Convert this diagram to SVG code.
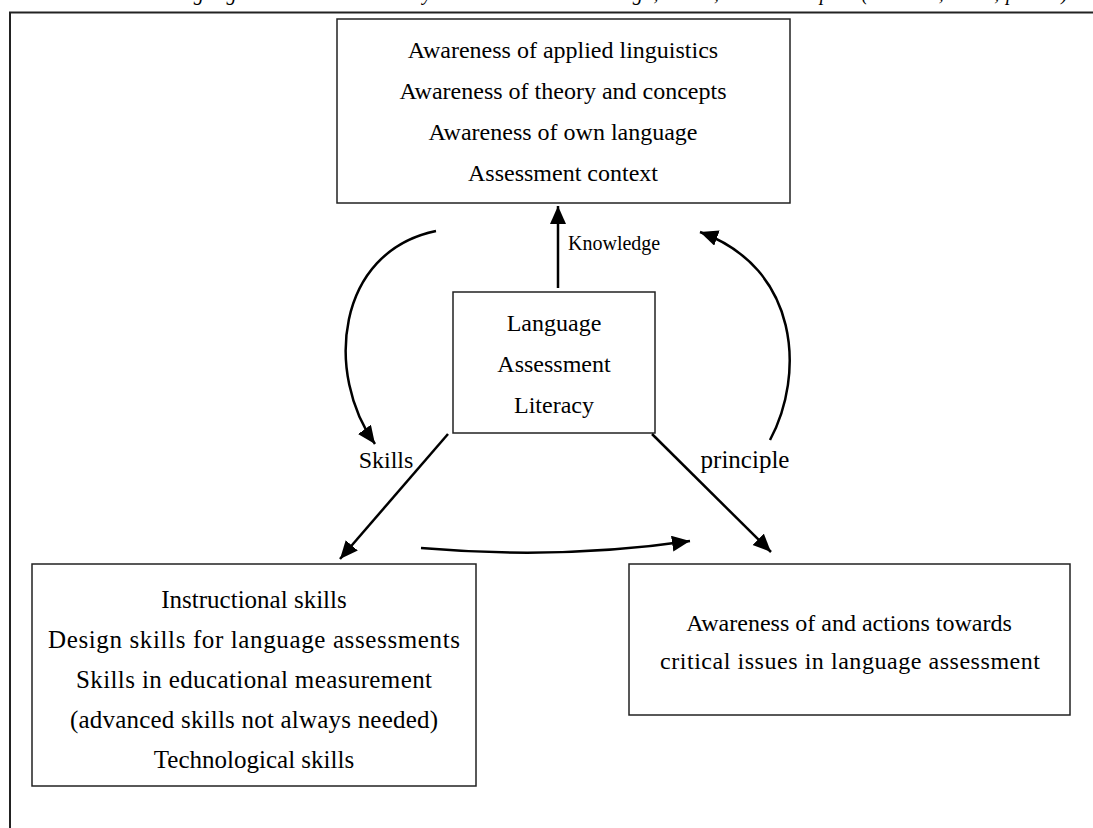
<svg xmlns="http://www.w3.org/2000/svg" width="1093" height="828" viewBox="0 0 1093 828">
<defs>
<style>
.box{fill:#fff;stroke:#222;stroke-width:1.5}
.t{font-family:"Liberation Serif","Times New Roman",serif;fill:#000;text-anchor:middle}
.cap{font-family:"Liberation Serif","Times New Roman",serif;font-style:italic;font-size:20px;fill:#000}
.conn{fill:none;stroke:#000;stroke-width:2.5}
</style>
<marker id="ah" markerUnits="userSpaceOnUse" markerWidth="20" markerHeight="18" refX="18" refY="8" orient="auto">
<path d="M0,0 L18,8 L0,16 Z" fill="#000"/>
</marker>
</defs>
<rect width="1093" height="828" fill="#fff"/>
<text class="cap" x="160" y="0" textLength="908" lengthAdjust="spacing">Language Assessment Literacy Dimensions: Knowledge, Skills, and Principles (Giraldo, 2018, p. 187)</text>
<path d="M10,828 V12.5 H1093" fill="none" stroke="#222" stroke-width="2"/>

<g id="knowledge-box">
<rect class="box" x="337" y="19" width="453" height="184"/>
<text class="t" font-size="24" x="563" y="58">Awareness of applied linguistics</text>
<text class="t" font-size="24" x="563" y="99">Awareness of theory and concepts</text>
<text class="t" font-size="24" x="563" y="140">Awareness of own language</text>
<text class="t" font-size="24" x="563" y="181">Assessment context</text>
</g>

<g id="lal-box">
<rect class="box" x="453" y="292" width="202" height="141"/>
<text class="t" font-size="24" x="554" y="331">Language</text>
<text class="t" font-size="24" x="554" y="372">Assessment</text>
<text class="t" font-size="24" x="554" y="413">Literacy</text>
</g>

<g id="skills-box">
<rect class="box" x="32" y="564" width="444" height="222"/>
<text class="t" font-size="25" x="254" y="608">Instructional skills</text>
<text class="t" font-size="25" x="254" y="648" textLength="412" lengthAdjust="spacing">Design skills for language assessments</text>
<text class="t" font-size="25" x="254" y="688" textLength="356" lengthAdjust="spacing">Skills in educational measurement</text>
<text class="t" font-size="25" x="254" y="728" textLength="368" lengthAdjust="spacing">(advanced skills not always needed)</text>
<text class="t" font-size="25" x="254" y="768">Technological skills</text>
</g>

<g id="principles-box">
<rect class="box" x="629" y="564" width="441" height="151"/>
<text class="t" font-size="24" x="849" y="631">Awareness of and actions towards</text>
<text class="t" font-size="24" x="850" y="669" textLength="380" lengthAdjust="spacing">critical issues in language assessment</text>
</g>

<g id="connectors">
<path class="conn" d="M558,288 V206" marker-end="url(#ah)"/>
<path class="conn" d="M436,231 C335,252 325,375 375,444" marker-end="url(#ah)"/>
<path class="conn" d="M770,440 C805,375 800,268 700,232" marker-end="url(#ah)"/>
<path class="conn" d="M448,434 L340,559" marker-end="url(#ah)"/>
<path class="conn" d="M652,434 L771,552" marker-end="url(#ah)"/>
<path class="conn" d="M421,548 Q560,560 690,541" marker-end="url(#ah)"/>
<text class="t" x="568" y="250" style="text-anchor:start;font-size:20px">Knowledge</text>
<text class="t" font-size="24" x="386" y="468">Skills</text>
<text class="t" font-size="25" x="745" y="468">principle</text>
</g>
</svg>
